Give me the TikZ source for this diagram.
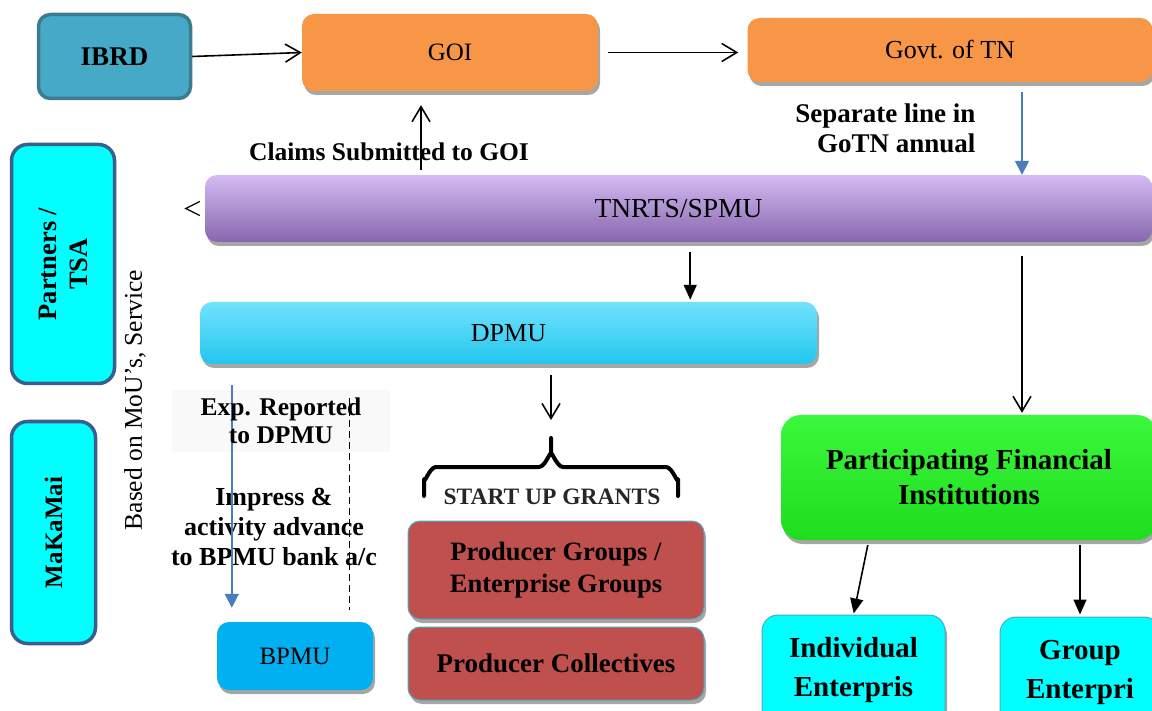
\documentclass[tikz,border=0pt]{standalone}
\usepackage{fontspec}
\setmainfont{Liberation Serif}
\usetikzlibrary{arrows.meta,shadows,calc}
\definecolor{ibrdfill}{HTML}{45A9C7}
\definecolor{ibrdline}{HTML}{3B7D8F}
\definecolor{orangefill}{HTML}{F79646}
\definecolor{purpletop}{HTML}{D4BBF2}
\definecolor{purplebot}{HTML}{8766AE}
\definecolor{dpmutop}{HTML}{72E2FB}
\definecolor{dpmubot}{HTML}{22C6EF}
\definecolor{bpmufill}{HTML}{00B0F0}
\definecolor{redfill}{HTML}{C0504D}
\definecolor{greentop}{HTML}{3CF83C}
\definecolor{greenbot}{HTML}{1EDC1E}
\definecolor{cyanfill}{HTML}{00FFFF}
\definecolor{cyanline}{HTML}{3A5F8C}
\definecolor{lightline}{HTML}{4BACC6}
\definecolor{arrowblue}{HTML}{4A7EBB}
\definecolor{graytext}{HTML}{262626}
\definecolor{faintbg}{HTML}{F9F9F9}
\newcommand{\fsz}[2]{\fontsize{#1}{#2}\selectfont}
\begin{document}
\begin{tikzpicture}[x=1pt,y=-1pt,
  box/.style={rounded corners=12pt, inner sep=0pt, align=center},
  shad/.style={drop shadow={shadow xshift=2pt, shadow yshift=-4pt, opacity=0.35, fill=black}},
  regtext/.style={font=\fsz{26}{30}},
  boldtext/.style={font=\fsz{26}{30}\bfseries, align=center},
  openarr/.style={-{Straight Barb[length=15pt,width=18pt,line width=1.6pt]}, line width=1.6pt},
  solidarr/.style={-{Triangle[length=15pt,width=13pt]}, line width=1.6pt},
  bluearr/.style={-{Triangle[length=14pt,width=14pt]}, line width=1.6pt, draw=arrowblue, fill=arrowblue},
  bracestyle/.style={line width=4pt, line join=round, line cap=round}
]
\path[use as bounding box] (0,0) rectangle (1152,711);
\clip (0,0) rectangle (1152,711);
\fill[white] (0,0) rectangle (1152,711);

% top row
\node[box, fill=ibrdfill, draw=ibrdline, line width=3.5pt, minimum width=152pt, minimum height=84pt,
      font=\fsz{27}{30}\bfseries] (ibrd) at (114.5,56.5) {IBRD};
\node[box, shad, fill=orangefill, minimum width=296pt, minimum height=77pt, font=\fsz{25}{30}] (goi) at (450,52.5) {GOI};
\node[box, shad, fill=orangefill, minimum width=405pt, minimum height=64pt, regtext] (gotn) at (950,50) {Govt. of TN};

% TNRTS
\node[box, shad, top color=purpletop, bottom color=purplebot, minimum width=947pt, minimum height=67pt,
      font=\fsz{27.5}{30}] (tnrts) at (678.5,208.5) {TNRTS/SPMU};

% left boxes
\node[box, fill=cyanfill, draw=cyanline, line width=3.5pt, rounded corners=16pt, minimum width=239pt,
      minimum height=103pt, rotate=90, font=\fsz{26.5}{31}\bfseries] (partners) at (63,264) {Partners /\\TSA};
\node[box, fill=cyanfill, draw=cyanline, line width=3.5pt, rounded corners=16pt, minimum width=222pt,
      minimum height=84pt, rotate=90, font=\fsz{25}{30}\bfseries] (makamai) at (53.5,532.5) {MaKaMai};
\node[rotate=90, font=\fsz{25.5}{30}, inner sep=0pt] (based) at (135,400) {Based on MoU's, Service};

% DPMU
\node[box, shad, top color=dpmutop, bottom color=dpmubot, minimum width=617pt, minimum height=62pt,
      regtext] (dpmu) at (508.5,333) {DPMU};

% BPMU
\node[box, shad, fill=bpmufill, minimum width=156pt, minimum height=68pt, font=\fsz{25}{30}] (bpmu) at (295,656) {BPMU};

% label backgrounds
\node[fill=faintbg, minimum width=218pt, minimum height=62pt, inner sep=0pt] (exp) at (281,421) {};
\node[boldtext, font=\fsz{27}{30}\bfseries, align=right, anchor=east] (sep) at (979,128) {Separate line in\\GoTN annual};
\node[boldtext, font=\fsz{26}{30}\bfseries] (imp) at (274,527) {Impress \&\\activity advance\\to BPMU bank a/c};

% start up grants
\coordinate (bracetip) at (551,438);
\node[font=\fsz{23.5}{26}\bfseries, text=graytext, inner sep=0pt] (sug) at (552,497) {START UP GRANTS};
\node[box, shad, fill=redfill, draw=lightline, line width=1pt, minimum width=296pt, minimum height=98pt,
      font=\fsz{26.5}{32}\bfseries] (pg) at (556,570) {Producer Groups /\\Enterprise Groups};
\node[box, shad, fill=redfill, draw=lightline, line width=1pt, minimum width=296pt, minimum height=73pt,
      font=\fsz{27}{32}\bfseries] (pc) at (556,663.5) {Producer Collectives};

% PFI and enterprises
\node[box, shad, rounded corners=20pt, top color=greentop, bottom color=greenbot, minimum width=376pt,
      minimum height=125pt, font=\fsz{29}{35}\bfseries] (pfi) at (969,477.5) {Participating Financial\\Institutions};
\node[box, shad, rounded corners=16pt, fill=cyanfill, draw=lightline, line width=1pt, minimum width=183pt,
      minimum height=110pt, font=\fsz{29}{39}\bfseries] (ie) at (853.5,670) {Individual\\Enterpris};
\node[box, shad, rounded corners=16pt, fill=cyanfill, draw=lightline, line width=1pt, minimum width=160pt,
      minimum height=110pt, font=\fsz{29}{39}\bfseries] (ge) at (1080,672) {Group\\Enterpri};

% connectors
\draw[openarr] (ibrd.east) -- (goi.west);
\draw[openarr, shorten <=10pt, shorten >=9pt] (goi.east) -- (gotn.west |- goi.east);
\draw[openarr, shorten >=14pt] ($(goi.south |- tnrts.north)+(-29,-5)$) -- ($(goi.south)+(-29,0)$);
\draw[bluearr, shorten <=10pt] ($(gotn.south)+(72,0)$) -- ($(gotn.south |- tnrts.north)+(72,0)$);
\draw[line width=1.2pt, line join=miter] ($(tnrts.west)+(-5,-7)$) -- ($(tnrts.west)+(-19,0)$) -- ($(tnrts.west)+(-5,7)$);
\draw[solidarr, shorten <=10pt] ($(dpmu.north east |- tnrts.south)+(-127,0)$) -- ($(dpmu.north east)+(-127,-2)$);
\draw[openarr, shorten <=14pt, shorten >=2pt] ($(pfi.north |- tnrts.south)+(53,0)$) -- ($(pfi.north)+(53,0)$);
\draw[openarr, shorten <=11pt, shorten >=18pt] (dpmu.south -| bracetip) -- (bracetip);
\draw[bluearr, shorten <=21pt, shorten >=14pt] ($(dpmu.south west)+(32,0)$) -- ($(bpmu.north west)+(15,0)$);
\draw[line width=1.3pt, dash pattern=on 7pt off 4pt, shorten <=34pt, shorten >=12pt]
  ($(bpmu.north east |- dpmu.south)+(-24,0)$) -- ($(bpmu.north east)+(-24,0)$);
\draw[solidarr, shorten <=5pt, shorten >=1pt] ($(pfi.south west)+(88,0)$) -- (ie.north);
\draw[solidarr, shorten <=5pt, shorten >=2pt] (pfi.south -| ge.north) -- (ge.north);

% brace
\draw[bracestyle] (424,496) -- (424,479) to[out=-90,in=180] (436,467) -- (539,467)
   to[out=0,in=90] (551,455) -- (bracetip) -- (551,455) to[out=90,in=180] (563,467) -- (666,467)
   to[out=0,in=-90] (678,479) -- (678,496);

% label texts on top
\node[boldtext, font=\fsz{25.5}{28}\bfseries] at (exp) {Exp. Reported\\to DPMU};
\node[boldtext, font=\fsz{25.5}{28}\bfseries] (claims) at (389,152) {Claims Submitted to GOI};
\end{tikzpicture}
\end{document}
